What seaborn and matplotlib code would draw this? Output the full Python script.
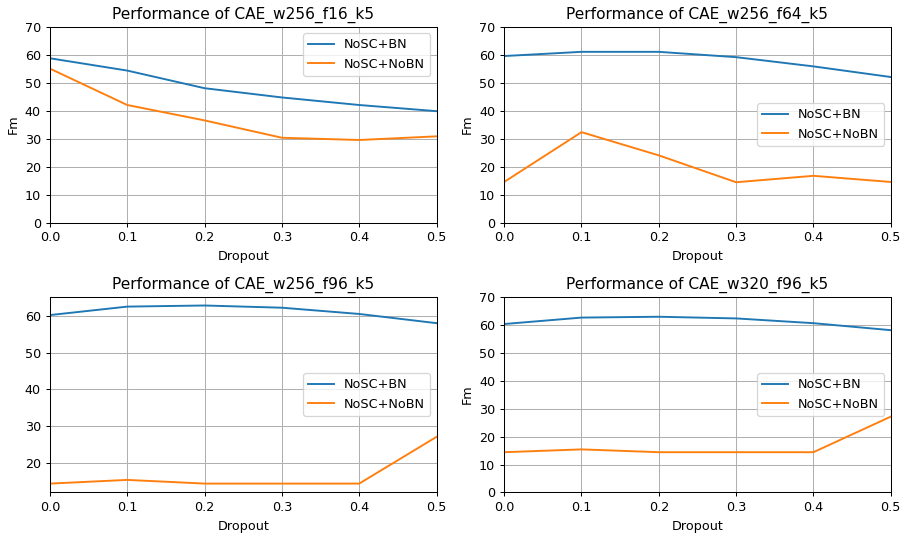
import seaborn as sns
import pandas as pd
import matplotlib.pyplot as plt
from matplotlib.ticker import MultipleLocator

# Data
dropout = [0.0, 0.1, 0.2, 0.3, 0.4, 0.5]
series_names = ["NoSC+BN", "NoSC+NoBN"]

titles = [
    "Performance of CAE_w256_f16_k5",
    "Performance of CAE_w256_f64_k5",
    "Performance of CAE_w256_f96_k5",
    "Performance of CAE_w320_f96_k5",
]

bn_f16 = [58.7, 54.3, 48.0, 44.7, 42.0, 39.8]
nobn_f16 = [55.0, 42.0, 36.5, 30.3, 29.5, 30.8]

bn_f64 = [59.5, 61.0, 61.0, 59.1, 55.8, 52.0]
nobn_f64 = [14.5, 32.3, 24.0, 14.4, 16.7, 14.5]

bn_w256_f96 = [60.2, 62.5, 62.8, 62.2, 60.5, 58.0]
nobn_w256_f96 = [14.4, 15.4, 14.4, 14.4, 14.4, 27.1]

bn_w320_f96 = [60.2, 62.5, 62.8, 62.2, 60.5, 58.0]
nobn_w320_f96 = [14.4, 15.4, 14.4, 14.4, 14.4, 27.1]

panels = [
    (bn_f16, nobn_f16, "upper right", (0, 70), True),
    (bn_f64, nobn_f64, "center right", (0, 70), True),
    (bn_w256_f96, nobn_w256_f96, "center right", None, False),
    (bn_w320_f96, nobn_w320_f96, "center right", (0, 70), True),
]

fig, axes = plt.subplots(2, 2, figsize=(908 / 92, 533 / 92), dpi=92)

for ax, title, (bn, nobn, loc, ylim, show_ylabel) in zip(axes.flat, titles, panels):
    df = pd.DataFrame({
        "Dropout": dropout * 2,
        "Fm": bn + nobn,
        "Model": [series_names[0]] * len(dropout) + [series_names[1]] * len(dropout),
    })
    sns.lineplot(data=df, x="Dropout", y="Fm", hue="Model",
                 palette=["#1f77b4", "#ff7f0e"], ax=ax)
    ax.set_title(title)
    ax.set_xlim(0, 0.5)
    if ylim:
        ax.set_ylim(*ylim)
    ax.yaxis.set_major_locator(MultipleLocator(10))
    ax.set_ylabel("Fm" if show_ylabel else "")
    ax.grid(True)
    ax.legend(loc=loc, title=None)

fig.subplots_adjust(left=0.055, right=0.981, top=0.95, bottom=0.076,
                    wspace=0.175, hspace=0.378)
fig.savefig("out.png")
